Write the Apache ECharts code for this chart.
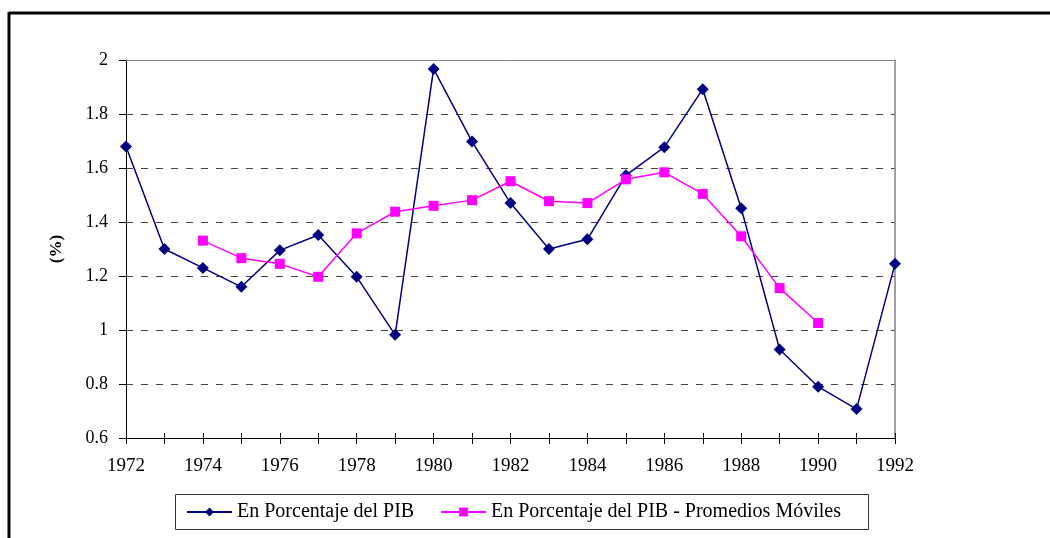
<!DOCTYPE html>
<html>
<head>
<meta charset="utf-8">
<script src="https://cdn.jsdelivr.net/npm/echarts@6/dist/echarts.min.js"></script>
<style>
html,body{margin:0;padding:0;background:#fff;}
#c{width:1050px;height:538px;}
</style>
</head>
<body>
<div id="c"></div>
<script>
const years = ['1972','1973','1974','1975','1976','1977','1978','1979','1980','1981','1982','1983','1984','1985','1986','1987','1988','1989','1990','1991','1992'];
const pib = [1.68,1.30,1.23,1.16,1.295,1.352,1.197,0.982,1.967,1.698,1.47,1.30,1.336,1.573,1.677,1.892,1.451,0.928,0.79,0.707,1.245];
const pibMovil = [null,null,1.331,1.266,1.245,1.197,1.358,1.438,1.46,1.481,1.551,1.477,1.470,1.558,1.584,1.504,1.347,1.155,1.026,null,null];
const yTicks = {min:0.6, max:2, interval:0.2};
const seriesNames = ['En Porcentaje del PIB','En Porcentaje del PIB - Promedios Móviles'];

const serif = '"Liberation Serif", "DejaVu Serif", serif';
const legendText = {fontFamily:serif, fontSize:20, color:'#000'};
const chart = echarts.init(document.getElementById('c'), null, {renderer:'canvas'});
chart.setOption({
  animation:false,
  backgroundColor:'#fff',
  textStyle:{fontFamily:serif},
  graphic:[
    {type:'line', shape:{x1:9, y1:13, x2:1050, y2:13}, style:{stroke:'#000', lineWidth:3}},
    {type:'line', shape:{x1:9, y1:12, x2:9, y2:538}, style:{stroke:'#000', lineWidth:3}},
    {type:'rect', shape:{x:175.5, y:494.5, width:693, height:35}, style:{fill:'none', stroke:'#333', lineWidth:1}, z:-1}
  ],
  grid:{left:126, top:60, right:155, bottom:100},
  legend:[
    {left:186, top:502, padding:0, itemWidth:45, itemHeight:11,
     textStyle:legendText, data:[seriesNames[0]]},
    {left:440, top:502, padding:0, itemWidth:45, itemHeight:11,
     textStyle:legendText, data:[seriesNames[1]]}
  ],
  xAxis:[
    {type:'category', data:years, boundaryGap:false, position:'bottom',
     axisLine:{lineStyle:{color:'#000', width:1}},
     axisTick:{show:true, interval:0, length:6, lineStyle:{color:'#000'}},
     axisLabel:{interval:1, margin:19, fontFamily:serif, fontSize:19, color:'#000'},
     splitLine:{show:false}},
    {type:'category', data:years, boundaryGap:false, position:'bottom',
     axisLine:{show:false},
     axisTick:{show:true, inside:true, interval:0, length:5, lineStyle:{color:'#000'}},
     axisLabel:{show:false}, splitLine:{show:false}},
    {type:'category', data:years, boundaryGap:false, position:'top',
     axisLine:{lineStyle:{color:'#808080', width:1}},
     axisTick:{show:false}, axisLabel:{show:false}, splitLine:{show:false}}
  ],
  yAxis:[
    {type:'value', min:yTicks.min, max:yTicks.max, interval:yTicks.interval,
     name:'(%)', nameLocation:'middle', nameRotate:90, nameGap:61,
     nameTextStyle:{fontFamily:serif, fontSize:17, fontWeight:'bold', color:'#000'},
     axisLine:{show:true, lineStyle:{color:'#000', width:1}},
     axisTick:{show:true, length:7, lineStyle:{color:'#000'}},
     axisLabel:{margin:18, fontFamily:serif, fontSize:18, color:'#000'},
     splitLine:{show:true, showMinLine:false, showMaxLine:false, lineStyle:{color:'#444', width:1, type:[7,8]}}},
    {type:'value', min:yTicks.min, max:yTicks.max, interval:yTicks.interval, position:'right',
     axisLine:{show:true, lineStyle:{color:'#808080', width:1.5}},
     axisTick:{show:false}, axisLabel:{show:false}, splitLine:{show:false}}
  ],
  series:[
    {name:seriesNames[0], type:'line', data:pib, symbol:'diamond', symbolSize:12,
     lineStyle:{color:'#000080', width:1.5}, itemStyle:{color:'#000080'}, z:2},
    {name:seriesNames[1], type:'line', data:pibMovil, symbol:'rect', symbolSize:10,
     connectNulls:false,
     lineStyle:{color:'#FF00FF', width:1.5}, itemStyle:{color:'#FF00FF'}, z:3}
  ]
});
</script>
</body>
</html>
